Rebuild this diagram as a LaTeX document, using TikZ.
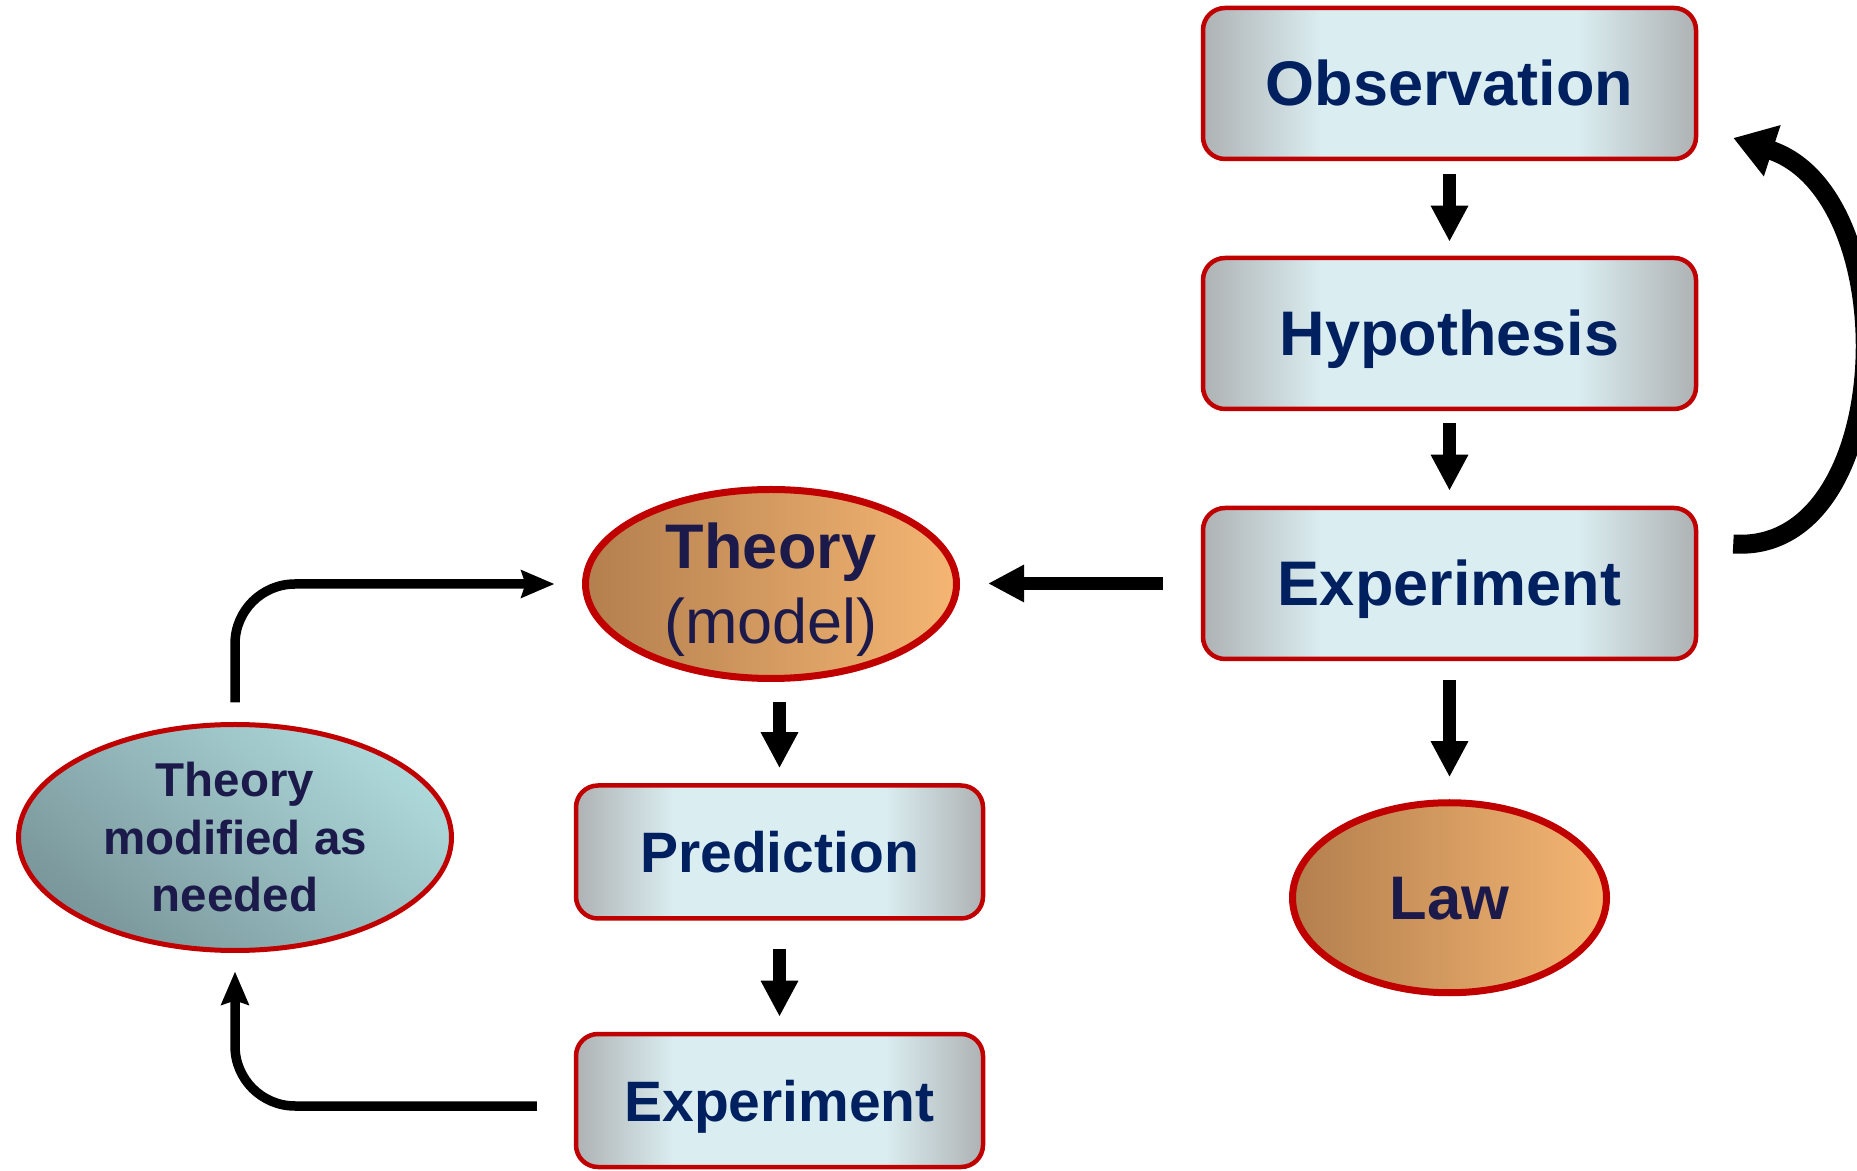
\documentclass[tikz,border=0pt]{standalone}
\usepackage{fontspec}
\setmainfont{Liberation Sans}
\usetikzlibrary{arrows.meta,positioning,shapes.geometric,calc}
\definecolor{boxred}{HTML}{C00000}
\definecolor{boxgrey}{HTML}{AEB2B4}
\definecolor{boxlight}{HTML}{DAEDF0}
\definecolor{boxink}{HTML}{002060}
\definecolor{ovalink}{HTML}{1B1A4A}
\definecolor{orgdark}{HTML}{B37F4E}
\definecolor{orglight}{HTML}{F5B673}
\definecolor{tealdark}{HTML}{7A979B}
\definecolor{teallight}{HTML}{ADD8DA}
\pgfdeclarehorizontalshading{boxshade}{100bp}{color(0bp)=(boxgrey); color(25bp)=(boxgrey); color(37bp)=(boxlight); color(63bp)=(boxlight); color(75bp)=(boxgrey); color(100bp)=(boxgrey)}

\begin{document}
\begin{tikzpicture}[x=1pt,y=1pt,node distance=94.5pt,
	bigbox/.style={rectangle,rounded corners=22pt,draw=boxred,line width=4.5pt,shade,shading=boxshade,
		minimum width=493pt,minimum height=151pt,text=boxink,
		font=\fontsize{63}{75}\selectfont\bfseries,text height=45pt,text depth=0pt},
	smallbox/.style={bigbox,minimum width=407pt,minimum height=133pt,
		font=\fontsize{57}{68}\selectfont\bfseries,text height=41pt},
	oval/.style={ellipse,draw=boxred,line width=7pt,inner sep=0pt,left color=orgdark,right color=orglight,text=ovalink,align=center},
	bigarrow/.style={-{Triangle[length=36pt,width=35pt]},line width=12.5pt},
	thinarrow/.style={-{Stealth[length=33pt,width=27pt,inset=4pt]},line width=9.5pt,rounded corners=60pt},
	curvearrow/.style={-{Triangle[length=41pt,width=51pt]},line width=19pt}]
	\useasboundingbox (0,0) rectangle (1857,1170);
	\node[bigbox] (obs) at (1449.5,1086.5) {Observation};
	\node[bigbox] [below=of obs] (hyp) {Hypothesis};
	\node[bigbox] [below=of hyp] (exp_r) {Experiment};
	\node[oval,minimum width=314pt,minimum height=190pt,font=\fontsize{61.5}{72}\selectfont\bfseries,text height=44pt,text depth=0pt]
		[below=138pt of exp_r] (law) {Law};
	\node[oval,inner ysep=-12pt,minimum width=371pt,minimum height=189pt,font=\fontsize{63}{75}\selectfont] (theory) at (771,586) {{\bfseries\rule{0pt}{58pt}Theory}\\(model)};
	\node[smallbox] (pred) at (779.5,318) {Prediction};
	\node[smallbox] [below=111pt of pred] (exp_b) {Experiment};
	\node[oval,line width=5pt,minimum width=433pt,minimum height=226pt,top color=teallight,bottom color=tealdark,shading angle=-40,
		font=\fontsize{47.5}{57.5}\selectfont\bfseries] (mod) at (235,332.5) {Theory\\modified as\\needed};
	\path[bigarrow]
	(obs) edge [shorten <=13pt, shorten >=14pt] (hyp)
	(hyp) edge [shorten <=12pt, shorten >=15pt] (exp_r)
	(exp_r) edge [shorten <=19pt, shorten >=22pt] (law)
	(exp_r.west) edge [shorten <=38pt, shorten >=28pt] (exp_r.west -| theory.east)
	(pred.north |- theory.south) edge [shorten <=20pt, shorten >=15pt] (pred.north)
	(pred) edge [shorten <=28pt, shorten >=15pt] (exp_b);
	\draw[thinarrow] ([shift={(-37pt,-5.5pt)}]exp_b.west) -| ([yshift=-18.5pt]mod.south);
	\draw[thinarrow] ([yshift=19.5pt]mod.north) |- ([xshift=-27.5pt]theory.west);
	\draw[curvearrow] ([shift={(35pt,39.5pt)}]exp_r.east) .. controls +(164,-11) and +(174,-57) .. ([shift={(35pt,-54.5pt)}]obs.east);
\end{tikzpicture}
\end{document}
